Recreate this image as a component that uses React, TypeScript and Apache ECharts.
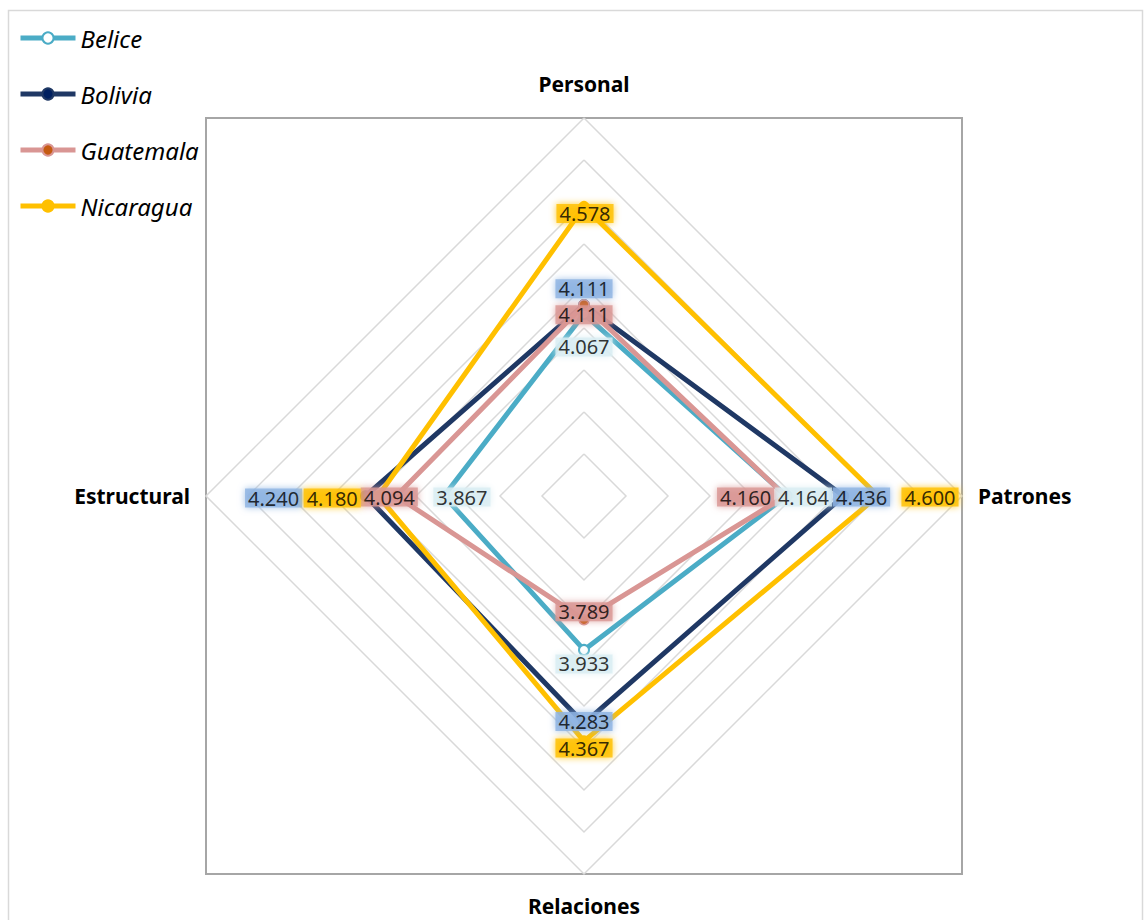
import React, { useEffect, useRef } from "react";
import * as echarts from "echarts";

// Axes (clockwise from top)
const indicators = ["Personal", "Patrones", "Relaciones", "Estructural"];
const countries = ["Belice", "Bolivia", "Guatemala", "Nicaragua"];

// Values per country in indicator order: Personal, Patrones, Relaciones, Estructural
const belice = [4.067, 4.164, 3.933, 3.867];
const bolivia = [4.111, 4.436, 4.283, 4.24];
const guatemala = [4.111, 4.16, 3.789, 4.094];
const nicaragua = [4.578, 4.6, 4.367, 4.18];
const seriesValues = [belice, bolivia, guatemala, nicaragua];

// Axis scale
const axisMin = 3.2;
const axisMax = 5.0;
const splitCount = 9;

// Label offsets from each point [dx, dy]
const labelOffsets = [
  [[0, 33], [17, 1], [0, 14], [18, 1]],
  [[0, -16], [18, 1], [0, -2], [-92, 2]],
  [[0, 10], [-40, 1], [0, -8], [-7, 1]],
  [[1, 7], [52, 1], [0, 7], [-46, 2]],
];

const lineColors = ["#4BACC6", "#1F3864", "#D99694", "#FFC000"];
const markerFill = ["#FFFFFF", "#002060", "#C55A11", "#FFC000"];
const markerBorder = ["#4BACC6", "#1F3864", "#D99694", "#FFC000"];
const labelBg = ["#DAEEF3", "#8DB3E2", "#D99694", "#FFC000"];

const CX = 584;
const CY = 496;
const R = 378;

// ECharts radar goes counter-clockwise from the top
const radarOrder = [0, 3, 2, 1];

export default function App() {
  const ref = useRef<HTMLDivElement>(null);
  useEffect(() => {
    if (!ref.current) return;
    const chart = echarts.init(ref.current, null, { renderer: "svg" });
    const font = "Noto Sans";

    const legendLines = countries.map((name, i) => ({
      name,
      type: "line",
      coordinateSystem: "polar",
      data: [],
      symbol: "circle",
      lineStyle: { color: lineColors[i], width: 5 },
      itemStyle: { color: markerFill[i] },
    }));

    const radarSeries = countries.map((name, i) => ({
      name,
      type: "radar",
      radarIndex: 0,
      z: 2 + i * 0.1,
      symbol: i === 0 ? "emptyCircle" : "circle",
      symbolSize: 10,
      lineStyle: { color: lineColors[i], width: 5 },
      itemStyle: {
        color: i === 0 ? lineColors[0] : markerFill[i],
        borderColor: markerBorder[i],
        borderWidth: i === 0 ? 2 : 1.5,
      },
      data: [
        {
          name,
          value: radarOrder.map((k) => seriesValues[i][k]),
        },
      ],
    }));

    const labelSeries = countries.map((name, i) => ({
      name: name + " etiquetas",
      type: "scatter",
      coordinateSystem: "polar",
      z: 10,
      symbolSize: 1,
      itemStyle: { color: "transparent" },
      label: {
        show: true,
        position: "inside",
        formatter: (p: any) => Number(p.value[0]).toFixed(3),
        color: "#000",
        fontFamily: font,
        fontSize: 20,
        backgroundColor: labelBg[i],
        padding: [0, 3, -1, 3],
        shadowBlur: 7,
        shadowColor: labelBg[i],
      },
      data: seriesValues[i].map((v, k) => ({
        value: [v, k],
        label: { offset: labelOffsets[i][k] },
      })),
    }));

    chart.setOption({
      animation: false,
      backgroundColor: "#fff",
      graphic: [
        {
          type: "rect",
          z: 0,
          silent: true,
          shape: { x: 8.5, y: 10.5, width: 1134, height: 930 },
          style: { fill: "transparent", stroke: "#D9D9D9", lineWidth: 1.5 },
        },
        {
          type: "rect",
          z: 0,
          silent: true,
          shape: { x: CX - R, y: CY - R, width: 2 * R, height: 2 * R },
          style: { fill: "transparent", stroke: "#A6A6A6", lineWidth: 2 },
        },
      ],
      legend: {
        orient: "vertical",
        left: 13,
        top: 21,
        itemWidth: 55,
        itemHeight: 14,
        itemGap: 32,
        selectedMode: false,
        textStyle: {
          fontFamily: font,
          fontStyle: "italic",
          fontSize: 24,
          color: "#000",
        },
        data: countries.map((name, i) => ({
          name,
          lineStyle: { color: lineColors[i], width: 5, opacity: 1 },
          itemStyle: {
            color: markerFill[i],
            borderColor: markerBorder[i],
            borderWidth: 2,
            opacity: 1,
          },
        })),
      },
      radar: {
        center: [CX, CY],
        radius: R,
        shape: "polygon",
        splitNumber: splitCount,
        startAngle: 90,
        nameGap: 16,
        indicator: radarOrder.map((k) => ({
          name: indicators[k],
          min: axisMin,
          max: axisMax,
        })),
        axisName: {
          color: "#000",
          fontFamily: font,
          fontSize: 21,
          fontWeight: "bold",
          formatter: (name: string) =>
            name === "Personal"
              ? `{top|${name}}`
              : name === "Relaciones"
              ? `{bot|${name}}`
              : `{side|${name}}`,
          rich: {
            top: { fontFamily: font, fontSize: 21, fontWeight: "bold", color: "#000", padding: [0, 0, 8, 0] },
            bot: { fontFamily: font, fontSize: 21, fontWeight: "bold", color: "#000", padding: [5, 0, 0, 0] },
            side: { fontFamily: font, fontSize: 21, fontWeight: "bold", color: "#000" },
          },
        },
        axisLine: { show: false },
        axisTick: { show: false },
        axisLabel: { show: false },
        splitArea: { show: false },
        splitLine: { lineStyle: { color: "#D9D9D9", width: 1.5 } },
      },
      polar: { center: [CX, CY], radius: R },
      angleAxis: {
        type: "category",
        data: indicators,
        startAngle: 90,
        clockwise: true,
        boundaryGap: false,
        show: false,
      },
      radiusAxis: {
        type: "value",
        min: axisMin,
        max: axisMax,
        show: false,
      },
      series: [...legendLines, ...radarSeries, ...labelSeries],
    });
    return () => chart.dispose();
  }, []);
  return (
    <div
      ref={ref}
      style={{ position: "absolute", left: 0, top: 0, width: 1144, height: 920 }}
    />
  );
}
